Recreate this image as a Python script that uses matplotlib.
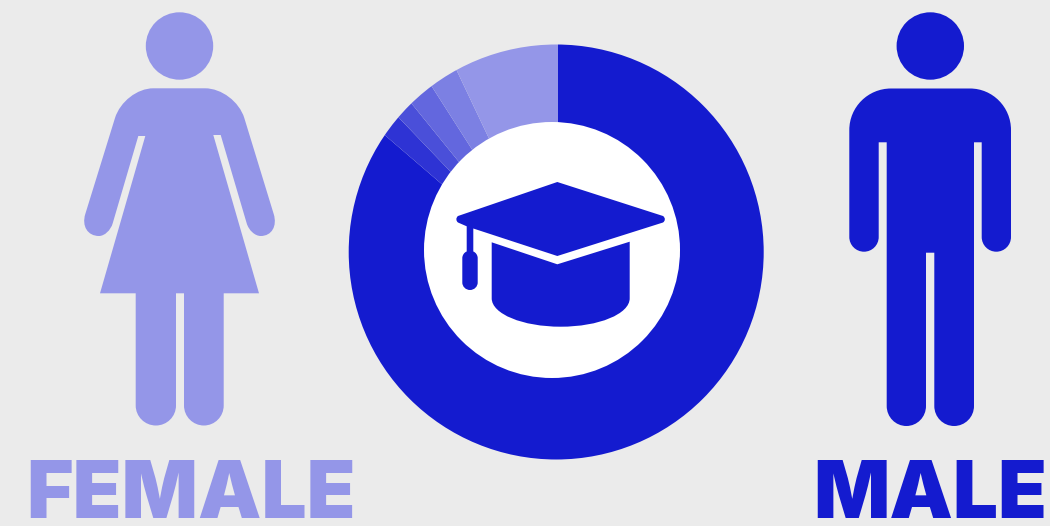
import matplotlib
matplotlib.use("Agg")
import matplotlib.pyplot as plt
from matplotlib.patches import Circle, PathPatch
from matplotlib.path import Path

# share of graduates per field, clockwise from the top
shares = [86.3, 1.55, 1.3, 1.8, 2.0, 7.05]
shade_colors = ["#141bcf", "#2e33d4", "#4a4fd9", "#6367de", "#7c80e3", "#9496e8"]
labels = ["FEMALE", "MALE"]

BLUE = "#141bcf"
LIGHT = "#9496e8"
BG = "#ebebeb"
W, H = 1050, 526
KAPPA = 0.5523


def shape(ax, verts, color):
    # 2-tuples are straight segments, 4-tuples are round corners (corner point, end)
    codes, pts = [], []
    for i, v in enumerate(verts):
        if len(v) == 4:
            x0, y0 = pts[-1]
            cx, cy, x1, y1 = v
            codes += [Path.CURVE4] * 3
            pts += [(x0 + KAPPA * (cx - x0), y0 + KAPPA * (cy - y0)),
                    (x1 + KAPPA * (cx - x1), y1 + KAPPA * (cy - y1)),
                    (x1, y1)]
        else:
            codes.append(Path.MOVETO if i == 0 else Path.LINETO)
            pts.append(v)
    codes.append(Path.CLOSEPOLY)
    pts.append(pts[0])
    ax.add_patch(PathPatch(Path(pts, codes), fc=color, ec="none"))


fig = plt.figure(figsize=(W / 100, H / 100), dpi=100, facecolor=BG)

# pie sits lower than the ring it is cut to, so the slices fan out from below the centre
pie_ax = fig.add_axes([0, 0, 1, 1])
wedges, _ = pie_ax.pie(shares, colors=shade_colors, startangle=90, counterclock=False,
                       center=(558, H - 284), radius=270)
pie_ax.set_xlim(0, W)
pie_ax.set_ylim(0, H)
pie_ax.set_aspect("auto")
ring = Circle((556.2, H - 252), 207.5, transform=pie_ax.transData)
for wedge in wedges:
    wedge.set_clip_on(True)
    wedge.set_clip_path(ring)

over = fig.add_axes([0, 0, 1, 1])
over.set_xlim(0, W)
over.set_ylim(H, 0)
over.axis("off")
over.patch.set_alpha(0)
over.add_patch(Circle((552, 250), 128, fc="white", ec="none"))

# graduation cap
shape(over, [(557.3, 182), (663, 216), (667.5, 219.3, 663, 222.5),
             (557.3, 256), (473.3, 228.5), (473.3, 251.5), (477.7, 253, 477.7, 258),
             (477.7, 282.5), (477.7, 290, 470, 290), (462.3, 290, 462.3, 282.5),
             (462.3, 258), (462.3, 253, 466.7, 251.5), (466.7, 226.3), (458, 222.5),
             (454, 219.3, 458, 216)], BLUE)
shape(over, [(491.7, 242.3), (557.3, 264.3), (629.7, 241.7), (629.7, 298.3),
             (629.7, 326.7, 560.7, 326.7), (491.7, 326.7, 491.7, 298.3)], BLUE)

# female figure
over.add_patch(Circle((179.5, 46), 33.7, fc=LIGHT, ec="none"))
shape(over, [(153.3, 88.3), (205, 88.3), (235, 88.3, 244.3, 118), (273.7, 214),
             (280.5, 236, 260.7, 236), (250.4, 236, 246.7, 223.3), (220.7, 135), (213.3, 135),
             (259, 293.3), (223.7, 293.3), (223.7, 405.5), (223.7, 425.5, 203.9, 425.5),
             (184, 425.5, 184, 405.5), (184, 293.3), (176, 293.3), (176, 405.5),
             (176, 425.5, 155.9, 425.5), (135.7, 425.5, 135.7, 405.5), (135.7, 293.3),
             (100, 293.3), (145.3, 136), (138.3, 136), (112.7, 223.3), (109, 236, 99, 236),
             (78.5, 236, 85.3, 214), (115, 118), (124.3, 88.3, 153.3, 88.3)], LIGHT)

# male figure
over.add_patch(Circle((930.3, 46), 33.7, fc=BLUE, ec="none"))
shape(over, [(891, 88.5), (970, 88.5), (1011, 88.5, 1011, 130), (1011, 237),
             (1011, 251.7, 996.3, 251.7), (981.7, 251.7, 981.7, 237), (981.7, 142.3),
             (974, 142.3), (974, 406), (974, 426, 954.1, 426), (934.3, 426, 934.3, 406),
             (934.3, 252.7), (926, 252.7), (926, 406), (926, 426, 906.4, 426),
             (886.7, 426, 886.7, 406), (886.7, 142.3), (878.7, 142.3), (878.7, 237),
             (878.7, 251.7, 864, 251.7), (849.3, 251.7, 849.3, 237), (849.3, 130),
             (849.3, 88.5, 891, 88.5)], BLUE)

over.text(191, 518.3, labels[0], color=LIGHT, fontsize=57.5, family="Inter", weight=900,
          ha="center", va="baseline")
over.text(930, 518.3, labels[1], color=BLUE, fontsize=57.5, family="Inter", weight=900,
          ha="center", va="baseline")

fig.savefig("out.png", dpi=100, facecolor=BG)
